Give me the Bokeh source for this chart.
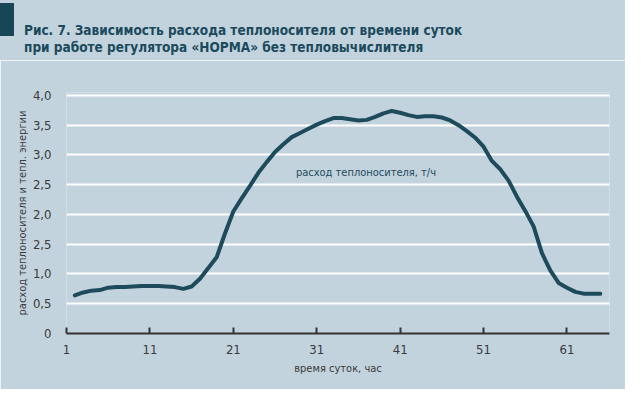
from bokeh.plotting import figure
from bokeh.layouts import column
from bokeh.models import FixedTicker, Label, Range1d, Div
from bokeh.embed import file_html
from bokeh.resources import INLINE

# Часы суток и расход теплоносителя (т/ч)
hours = [2, 3, 4, 5, 6, 7, 8, 9, 10, 11, 12, 13, 14, 15, 16, 17, 18, 19, 20,
         21, 22, 23, 24, 25, 26, 27, 28, 29, 30, 31, 32, 33, 34, 35, 36, 37,
         38, 39, 40, 41, 42, 43, 44, 45, 46, 47, 48, 49, 50, 51, 52, 53, 54,
         55, 56, 57, 58, 59, 60, 61, 62, 63, 64, 65]
flow = [0.64, 0.69, 0.72, 0.73, 0.77, 0.78, 0.78, 0.79, 0.80, 0.80, 0.80,
        0.79, 0.78, 0.75, 0.79, 0.92, 1.10, 1.28, 1.68, 2.05, 2.27, 2.48,
        2.70, 2.88, 3.05, 3.18, 3.30, 3.37, 3.44, 3.51, 3.57, 3.62, 3.62,
        3.60, 3.58, 3.59, 3.64, 3.70, 3.74, 3.71, 3.67, 3.64, 3.65, 3.65,
        3.63, 3.58, 3.50, 3.40, 3.29, 3.14, 2.90, 2.76, 2.57, 2.30, 2.06,
        1.80, 1.35, 1.06, 0.85, 0.77, 0.70, 0.67, 0.67, 0.67]

x_ticks = [1, 11, 21, 31, 41, 51, 61]
y_ticks = [0, 0.5, 1.0, 1.5, 2.0, 2.5, 3.0, 3.5, 4.0]
y_tick_labels = ["0", "0,5", "1,0", "2,5", "2,0", "2,5", "3,0", "3,5", "4,0"]

title_lines = ["Рис. 7. Зависимость расхода теплоносителя от времени суток",
               "при работе регулятора «НОРМА» без тепловычислителя"]

BG = "#c2d3de"
DARK = "#1d4b5b"
TXT = "#3a3a3a"
FONT = "DejaVu Sans Condensed"
W = 625
HEAD_H = 60

# шапка: тёмная плашка слева и двухстрочный заголовок
head_html = (
    f'<div style="position:relative;width:{W}px;height:{HEAD_H}px;background:{BG}">'
    '<div style="position:absolute;left:0;top:3px;width:14px;height:33px;'
    'background:#174656"></div>'
    f'<div style="position:absolute;left:24px;top:22px;font-family:\'{FONT}\';'
    'font-weight:bold;font-size:13.5px;line-height:17px;color:#1b4a5c;'
    'white-space:nowrap">' + "<br>".join(title_lines) + '</div></div>'
)
head = Div(text=head_html, width=W, height=HEAD_H, margin=0)

# график
p = figure(width=W, height=389 - HEAD_H, output_backend="svg", toolbar_location=None,
           x_range=Range1d(1, 66.1), y_range=Range1d(0, 4.05),
           min_border_left=66, min_border_right=16, min_border_top=32,
           min_border_bottom=56, margin=0)
p.background_fill_color = BG
p.border_fill_color = BG
p.outline_line_color = None

p.line(hours, flow, line_color=DARK, line_width=4, line_join="round", line_cap="round")

p.xaxis.ticker = FixedTicker(ticks=x_ticks)
p.xaxis.axis_line_color = "#333333"
p.xaxis.axis_line_width = 2
p.xaxis.major_tick_line_color = "#333333"
p.xaxis.major_tick_line_width = 2
p.xaxis.major_tick_in = 6
p.xaxis.major_tick_out = 0
p.xaxis.minor_tick_line_color = None
p.xaxis.major_label_standoff = 11
p.xaxis.axis_label = "время суток, час"
p.xaxis.axis_label_standoff = 5

p.yaxis.ticker = FixedTicker(ticks=y_ticks)
p.yaxis.major_label_overrides = dict(zip(y_ticks, y_tick_labels))
p.yaxis.axis_line_color = None
p.yaxis.major_tick_line_color = None
p.yaxis.minor_tick_line_color = None
p.yaxis.major_label_standoff = 9
p.yaxis.axis_label = "расход теплоносителя и тепл. энергии"
p.yaxis.axis_label_standoff = 1

for ax in (p.xaxis, p.yaxis):
    ax.major_label_text_font = FONT
    ax.major_label_text_font_size = "13px"
    ax.major_label_text_color = TXT
    ax.axis_label_text_font = FONT
    ax.axis_label_text_font_size = "11px"
    ax.axis_label_text_font_style = "normal"
    ax.axis_label_text_color = TXT

p.xgrid.grid_line_color = None
p.ygrid.ticker = FixedTicker(ticks=y_ticks)
p.ygrid.grid_line_color = "white"
p.ygrid.grid_line_width = 2

p.add_layout(Label(x=28.5, y=2.71, text="расход теплоносителя, т/ч",
                   text_font=FONT, text_font_size="11px", text_color=DARK,
                   text_baseline="middle"))

layout = column(head, p, spacing=0)
open("out.html", "w").write(file_html(layout, INLINE))
